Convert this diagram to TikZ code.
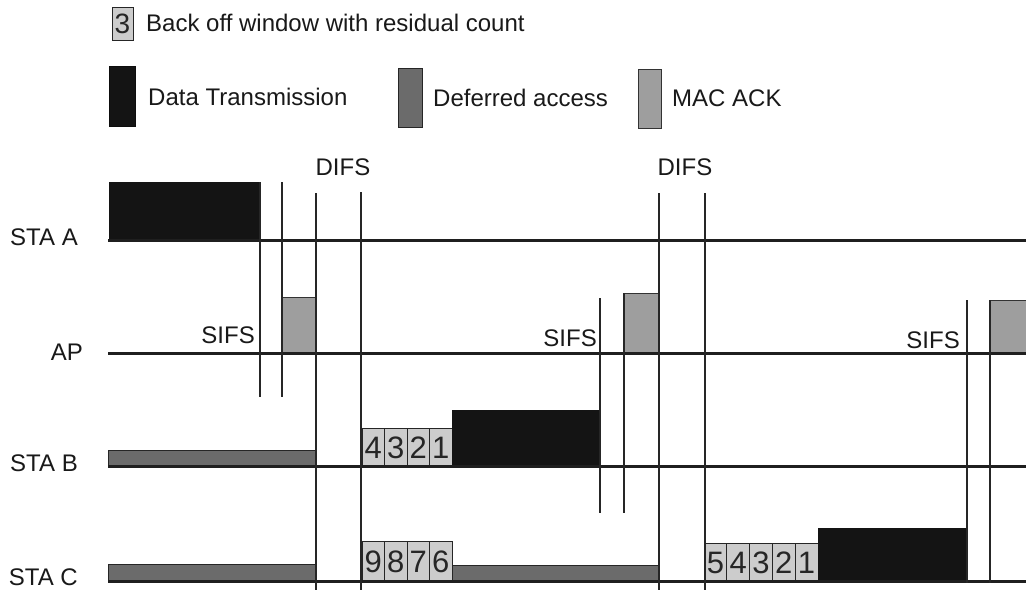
\documentclass[tikz,border=0pt]{standalone}
\usepackage{fontspec}
\setmainfont{Liberation Sans}
\begin{document}
\begin{tikzpicture}[x=1pt,y=-1pt,
  tl/.style={line width=3pt, black!88},
  vl/.style={line width=1.3pt, black!85},
  datab/.style={fill=black!92, draw=black!95, line width=0.8pt},
  defer/.style={fill=black!58, draw=black!85, line width=0.8pt},
  ackb/.style={fill=black!38, draw=black!80, line width=0.8pt},
  bobox/.style={fill=black!20, draw=black!85, line width=1pt},
  lbl/.style={font=\fontsize{24}{27}\selectfont, inner sep=0pt, text=black!90},
  dig/.style={font=\fontsize{31}{33}\selectfont, inner sep=0pt, text=black!85},
]
\useasboundingbox (0,0) rectangle (1026,590);
\fill[white] (0,0) rectangle (1026,590);

% ---------- legend ----------
\draw[bobox] (112,7) rectangle (133,40);
\node[dig, font=\fontsize{28}{30}\selectfont] (l3) at (122.5,24) {3};
\node[lbl, anchor=west] (lbo) at (146,23) {Back off window with residual count};

\draw[datab] (109,66) rectangle (135,126);
\node[lbl, anchor=west] (ldt) at (148,97) {Data Transmission};
\draw[defer] (398,68) rectangle (422,127);
\node[lbl, anchor=west] (lda) at (433,98) {Deferred access};
\draw[ackb] (638,69) rectangle (661,128);
\node[lbl, anchor=west] (lack) at (672,98) {MAC ACK};

% ---------- station labels ----------
\node[lbl, anchor=east] (sa) at (78,237) {STA A};
\node[lbl, anchor=east] (ap) at (83,352) {AP};
\node[lbl, anchor=east] (sb) at (78,463) {STA B};
\node[lbl, anchor=east] (sc) at (78,577) {STA C};

% ---------- frames ----------
% STA A data
\fill[black!92] (109,182) rectangle (260,240);
% AP ACKs
\draw[ackb] (282,297) rectangle (316,353);
\draw[ackb] (624,293) rectangle (659,353);
\draw[ackb] (990,300) rectangle (1030,353);
% STA B
\draw[defer] (108,450) rectangle (316,466);
\foreach \d [count=\i from 0] in {4,3,2,1}{
  \draw[bobox] (362+\i*22.5,428) rectangle (384.5+\i*22.5,466);
  \node[dig] (b\d) at (373.25+\i*22.5,448) {\d};
}
\fill[black!92] (452,410) rectangle (600,466);
% STA C
\draw[defer] (108,564) rectangle (316,581);
\foreach \d [count=\i from 0] in {9,8,7,6}{
  \draw[bobox] (362+\i*22.5,541) rectangle (384.5+\i*22.5,581);
  \node[dig] (c\d) at (373.25+\i*22.5,562) {\d};
}
\draw[defer] (452,565) rectangle (659,581);
\foreach \d [count=\i from 0] in {5,4,3,2,1}{
  \draw[bobox] (704+\i*22.8,543) rectangle (726.8+\i*22.8,581);
  \node[dig] (e\d) at (715.4+\i*22.8,563) {\d};
}
\fill[black!92] (818,528) rectangle (967,581);

% ---------- time lines ----------
\draw[tl] (108,240) -- (1026,240);
\draw[tl] (108,353) -- (1026,353);
\draw[tl] (108,466) -- (1026,466);
\draw[tl] (108,581) -- (1026,581);

% ---------- vertical markers ----------
\draw[vl] (260,182) -- (260,397);
\draw[vl] (282,182) -- (282,397);
\draw[vl] (316,193) -- (316,590);
\draw[vl] (361,192) -- (361,590);
\draw[vl] (600,298) -- (600,513);
\draw[vl] (624,293) -- (624,513);
\draw[vl] (659,193) -- (659,590);
\draw[vl] (705,193) -- (705,590);
\draw[vl] (967,300) -- (967,583);
\draw[vl] (990,300) -- (990,583);

% ---------- interval labels ----------
\node[lbl] (difs1) at (343,167) {DIFS};
\node[lbl] (difs2) at (685,167) {DIFS};
\node[lbl, anchor=east] (sifs1) at (255,335) {SIFS};
\node[lbl, anchor=east] (sifs2) at (597,338) {SIFS};
\node[lbl, anchor=east] (sifs3) at (960,340) {SIFS};
\end{tikzpicture}
\end{document}
